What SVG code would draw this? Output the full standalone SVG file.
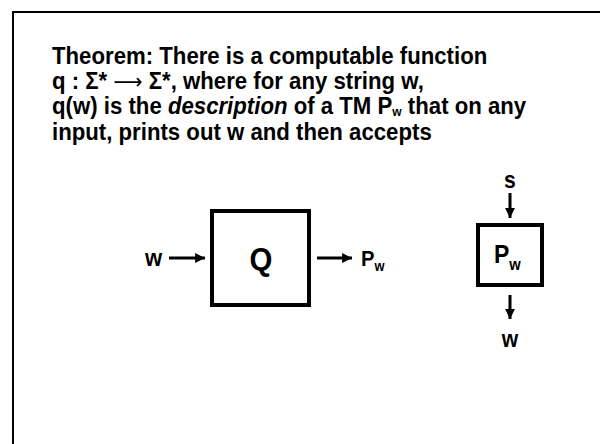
<svg xmlns="http://www.w3.org/2000/svg" width="600" height="444" viewBox="0 0 600 444">
<defs>
<style>
.t{font-family:"Liberation Sans",Arial,sans-serif;font-weight:bold;fill:#000}
.ar{font-family:"DejaVu Sans",sans-serif;font-weight:normal}
.box{fill:#fff;stroke:#000;stroke-width:4}
.con{stroke:#000;stroke-width:3;fill:none}
</style>
<marker id="ah" viewBox="0 0 10 10" refX="10" refY="5" markerWidth="3.3" markerHeight="3.3" markerUnits="strokeWidth" orient="auto">
<path d="M0,0 L10,5 L0,10 Z" fill="#000"/>
</marker>
</defs>
<rect width="600" height="444" fill="#fff"/>
<rect x="13" y="12" width="700" height="500" fill="none" stroke="#000" stroke-width="2"/>
<g id="title" class="t" font-size="24" transform="translate(52,0) scale(0.925,1)">
<text x="0" y="64">Theorem: There is a computable function</text>
<text x="0" y="89">q : Σ* <tspan class="ar" font-size="22">⟶</tspan> Σ*, where for any string w,</text>
<text x="0" y="114">q(w) is the <tspan font-style="italic">description</tspan> of a TM P<tspan font-size="13" dy="2">w</tspan><tspan dy="-2"> that on any</tspan></text>
<text x="0" y="140">input, prints out w and then accepts</text>
</g>
<g id="connectors">
<line class="con" x1="169" y1="258" x2="205" y2="258" marker-end="url(#ah)"/>
<line class="con" x1="317" y1="258" x2="352" y2="258" marker-end="url(#ah)"/>
<line class="con" x1="510" y1="193" x2="510" y2="218" marker-end="url(#ah)"/>
<line class="con" x1="510" y1="295" x2="510" y2="319" marker-end="url(#ah)"/>
</g>
<g id="node-Q">
<rect class="box" x="212" y="211" width="97" height="94"/>
<text class="t" x="0" y="270" font-size="32" text-anchor="middle" transform="translate(261,0) scale(0.92,1)">Q</text>
</g>
<g id="node-Pw">
<rect class="box" x="478" y="225" width="64" height="60"/>
<text class="t" x="0" y="263" font-size="25" transform="translate(494,0) scale(0.92,1)">P<tspan font-size="16" dy="7">w</tspan></text>
</g>
<g id="label-w-in"><text class="t" x="0" y="266" font-size="24" transform="translate(145,0) scale(0.92,1)">w</text></g>
<g id="label-Pw-out"><text class="t" x="0" y="266" font-size="22" transform="translate(361,0) scale(0.92,1)">P<tspan font-size="14" dy="5">w</tspan></text></g>
<g id="label-s"><text class="t" x="0" y="188" font-size="23" text-anchor="middle" transform="translate(510,0) scale(0.92,1)">s</text></g>
<g id="label-w-out"><text class="t" x="0" y="347" font-size="23" text-anchor="middle" transform="translate(510,0) scale(0.92,1)">w</text></g>
</svg>
